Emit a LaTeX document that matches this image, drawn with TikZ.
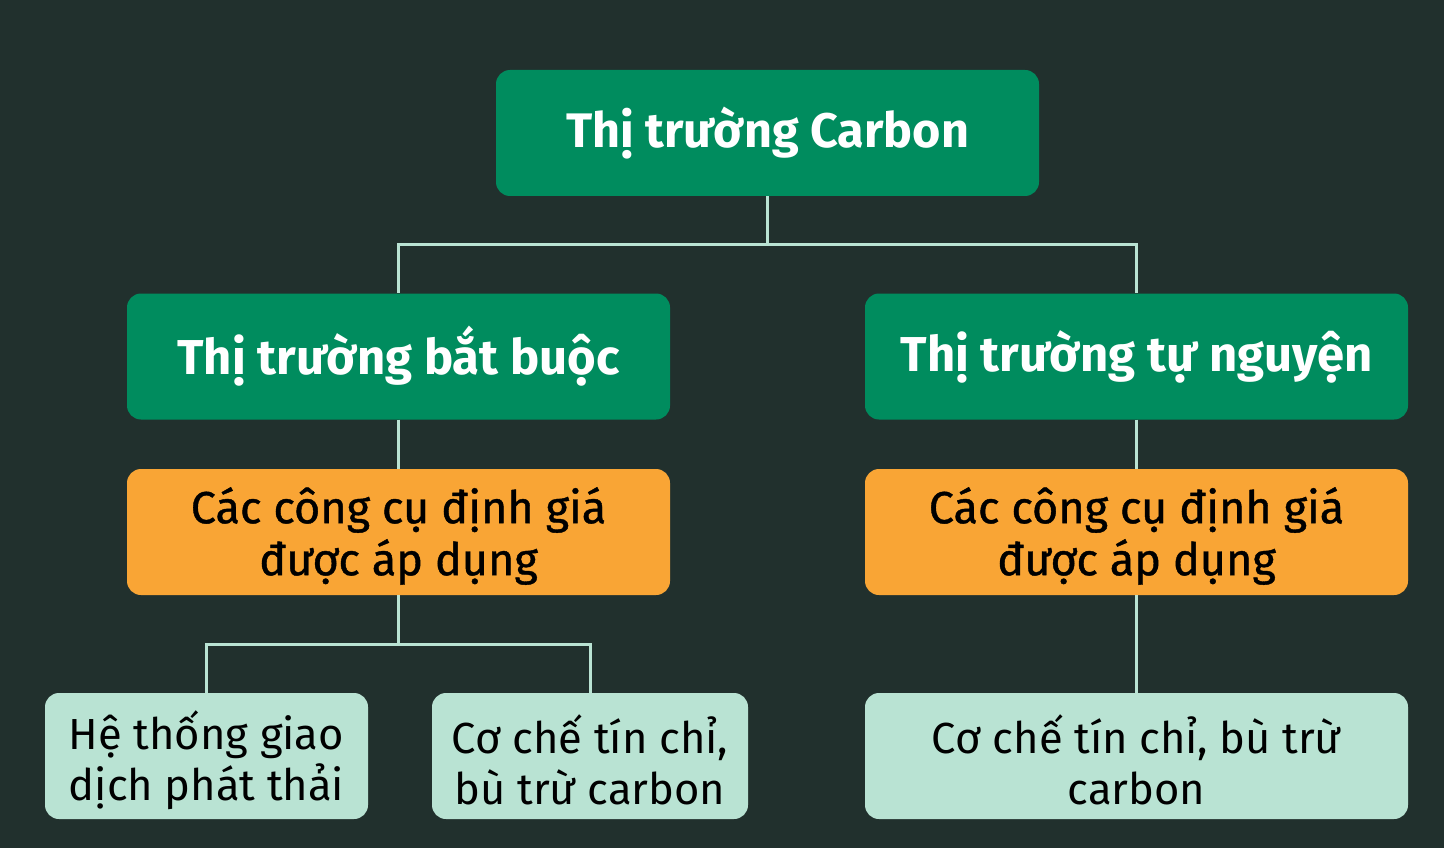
\documentclass[tikz,border=0pt]{standalone}
\usepackage{fontspec}
\setmainfont{Fira Sans}
\newfontfamily\medfont{Fira Sans}[FakeBold=0.9]
\definecolor{bgc}{HTML}{21302D}
\definecolor{grn}{HTML}{008C5E}
\definecolor{org}{HTML}{F9A535}
\definecolor{mnt}{HTML}{B9E3D3}
\tikzset{
  box/.style={rounded corners=14pt, minimum height=126pt, align=center, inner sep=0pt},
  gbox/.style={box, fill=grn, text=white, font=\fontsize{48.5}{52}\selectfont\bfseries},
  obox/.style={box, fill=org},
  mbox/.style={box, fill=mnt},
  otext/.style={align=center, text=black, inner sep=0pt, yshift=-4pt, font=\fontsize{45}{52}\selectfont\medfont},
  mtext/.style={align=center, text=black, inner sep=0pt, yshift=-4pt, font=\fontsize{43.5}{51}\selectfont},
  conn/.style={draw=mnt, line width=3pt},
}
\begin{document}
\begin{tikzpicture}[x=1pt,y=-1pt]
\fill[bgc] (0,0) rectangle (1444,848);
\useasboundingbox (0,0) rectangle (1444,848);
\node[gbox, minimum width=543pt] (top) at (767.5,133) {Thị trường Carbon};
\node[gbox, minimum width=543pt, font=\fontsize{49}{52}\selectfont\bfseries] (bb) at (398.5,356.5) {Thị trường bắt buộc};
\node[gbox, minimum width=543pt, font=\fontsize{49}{52}\selectfont\bfseries] (tn) at (1136.5,356.5) {Thị trường tự nguyện};
\node[obox, minimum width=543pt, label={[otext]center:{Các công cụ định giá\\được áp dụng}}] (o1) at (398.5,532) {};
\node[obox, minimum width=543pt, label={[otext]center:{Các công cụ định giá\\được áp dụng}}] (o2) at (1136.5,532) {};
\node[mbox, minimum width=323pt, label={[mtext]center:{Hệ thống giao\\dịch phát thải}}] (m1) at (206.5,756) {};
\node[mbox, minimum width=316pt, label={[mtext]center:{Cơ chế tín chỉ,\\bù trừ carbon}}] (m2) at (590,756) {};
\node[mbox, minimum width=543pt, label={[mtext]center:{Cơ chế tín chỉ, bù trừ\\carbon}}] (m3) at (1136.5,756) {};
\coordinate (j1) at (767.5,244);
\coordinate (j2) at (398.5,644);
\draw[conn] (top.south) -- (j1) -| (bb.north);
\draw[conn] (j1) -| (tn.north);
\draw[conn] (bb.south) -- (o1.north);
\draw[conn] (tn.south) -- (o2.north);
\draw[conn] (o1.south) -- (j2) -| (m1.north);
\draw[conn] (j2) -| (m2.north);
\draw[conn] (o2.south) -- (m3.north);
\end{tikzpicture}
\end{document}
